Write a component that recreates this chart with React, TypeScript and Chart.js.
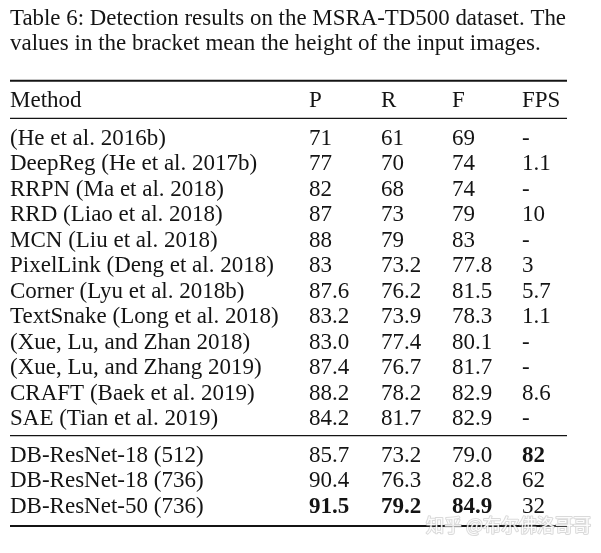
import React, { useEffect, useRef } from "react";
import { Chart, registerables } from "chart.js";

Chart.register(...registerables);

// ---------- data ----------
const CAPTION = [
  "Table 6: Detection results on the MSRA-TD500 dataset. The",
  "values in the bracket mean the height of the input images.",
];
const HEADERS = ["Method", "P", "R", "F", "FPS"];
const METHODS = [
  "(He et al. 2016b)",
  "DeepReg (He et al. 2017b)",
  "RRPN (Ma et al. 2018)",
  "RRD (Liao et al. 2018)",
  "MCN (Liu et al. 2018)",
  "PixelLink (Deng et al. 2018)",
  "Corner (Lyu et al. 2018b)",
  "TextSnake (Long et al. 2018)",
  "(Xue, Lu, and Zhan 2018)",
  "(Xue, Lu, and Zhang 2019)",
  "CRAFT (Baek et al. 2019)",
  "SAE (Tian et al. 2019)",
  "DB-ResNet-18 (512)",
  "DB-ResNet-18 (736)",
  "DB-ResNet-50 (736)",
];
const P = ["71", "77", "82", "87", "88", "83", "87.6", "83.2", "83.0", "87.4", "88.2", "84.2", "85.7", "90.4", "91.5"];
const R = ["61", "70", "68", "73", "79", "73.2", "76.2", "73.9", "77.4", "76.7", "78.2", "81.7", "73.2", "76.3", "79.2"];
const F = ["69", "74", "74", "79", "83", "77.8", "81.5", "78.3", "80.1", "81.7", "82.9", "82.9", "79.0", "82.8", "84.9"];
const FPS = ["-", "1.1", "-", "10", "-", "3", "5.7", "1.1", "-", "-", "8.6", "-", "82", "62", "32"];
// bold cells: [row, column]
const BOLD: [number, number][] = [
  [12, 4],
  [14, 1],
  [14, 2],
  [14, 3],
];
const WATERMARK = "知乎 @布尔佛洛哥哥";

// ---------- layout ----------
const W = 601;
const H = 553;
const COL_X = [10, 309, 381, 452, 522];
const TABLE_LEFT = 10;
const TABLE_RIGHT = 567;
const TOP_ROWS = 12;
const GROUP_GAP = 0.44;
const rowPos = (i: number) => i + (i >= TOP_ROWS ? GROUP_GAP : 0);
const HEADER_ROW = -1.49;
const CAPTION_ROWS = [-4.7, -3.74];
const RULES: { row: number; width: number }[] = [
  { row: -2.52, width: 2 },
  { row: -1.05, width: 1.3 },
  { row: 11.42, width: 1.3 },
  { row: 14.97, width: 2 },
];
const Y_MIN = -5.697;
const Y_MAX = 16.03;
const FONT = '"Liberation Serif", "Times New Roman", serif';
const TEXT_COLOR = "#141414";

const COLUMNS = [METHODS, P, R, F, FPS];

const tablePlugin = {
  id: "tableText",
  afterDatasetsDraw(chart: any) {
    const ctx = chart.ctx as CanvasRenderingContext2D;
    const y = chart.scales.y;
    const x = chart.scales.x;
    ctx.save();
    ctx.fillStyle = TEXT_COLOR;
    ctx.textAlign = "left";
    ctx.textBaseline = "alphabetic";
    // caption
    ctx.font = `23px ${FONT}`;
    CAPTION.forEach((line, i) => {
      ctx.fillText(line, x.getPixelForValue(TABLE_LEFT), y.getPixelForValue(CAPTION_ROWS[i]), 556);
    });
    // header
    HEADERS.forEach((h, c) => {
      ctx.fillText(h, x.getPixelForValue(COL_X[c]), y.getPixelForValue(HEADER_ROW));
    });
    // cells from dataset elements
    COLUMNS.forEach((col, c) => {
      const meta = chart.getDatasetMeta(c);
      meta.data.forEach((el: any, r: number) => {
        const bold = BOLD.some(([br, bc]) => br === r && bc === c);
        ctx.font = `${bold ? "bold " : ""}23px ${FONT}`;
        ctx.fillText(col[r], el.x, el.y);
      });
    });
    // watermark
    ctx.font = '18px "Noto Sans CJK SC", sans-serif';
    const wx = x.getPixelForValue(426);
    const wy = y.getPixelForValue(15.22);
    ctx.lineJoin = "round";
    ctx.lineWidth = 2;
    ctx.strokeStyle = "rgba(150,150,150,0.35)";
    ctx.strokeText(WATERMARK, wx, wy);
    ctx.fillStyle = "rgba(255,255,255,0.9)";
    ctx.fillText(WATERMARK, wx, wy);
    ctx.restore();
  },
};

const bgPlugin = {
  id: "bg",
  beforeDraw(chart: any) {
    const ctx = chart.ctx;
    ctx.save();
    ctx.fillStyle = "#ffffff";
    ctx.fillRect(0, 0, chart.width, chart.height);
    ctx.restore();
  },
};

export default function App() {
  const ref = useRef<HTMLCanvasElement | null>(null);
  useEffect(() => {
    if (!ref.current) return;
    const cellSets = COLUMNS.map((col, c) => ({
      type: "scatter" as const,
      label: HEADERS[c],
      data: col.map((_, r) => ({ x: COL_X[c], y: rowPos(r) })),
      pointRadius: 0,
      pointHoverRadius: 0,
      showLine: false,
    }));
    const ruleSets = RULES.map((rl) => ({
      type: "line" as const,
      label: "rule",
      data: [
        { x: TABLE_LEFT, y: rl.row },
        { x: TABLE_RIGHT, y: rl.row },
      ],
      borderColor: TEXT_COLOR,
      borderWidth: rl.width,
      pointRadius: 0,
      showLine: true,
      fill: false,
    }));
    const chart = new Chart(ref.current, {
      type: "scatter",
      data: { datasets: [...cellSets, ...ruleSets] as any },
      options: {
        animation: false,
        responsive: false,
        maintainAspectRatio: false,
        layout: { padding: 0 },
        events: [],
        scales: {
          x: { type: "linear", min: 0, max: W, display: false },
          y: { type: "linear", min: Y_MIN, max: Y_MAX, reverse: true, display: false },
        },
        plugins: { legend: { display: false }, tooltip: { enabled: false } },
      },
      plugins: [bgPlugin, tablePlugin],
    });
    return () => chart.destroy();
  }, []);
  return (
    <div style={{ position: "absolute", left: 0, top: 0, width: W, height: H, background: "#fff" }}>
      <canvas ref={ref} width={W} height={H} style={{ display: "block", width: W, height: H }} />
    </div>
  );
}
